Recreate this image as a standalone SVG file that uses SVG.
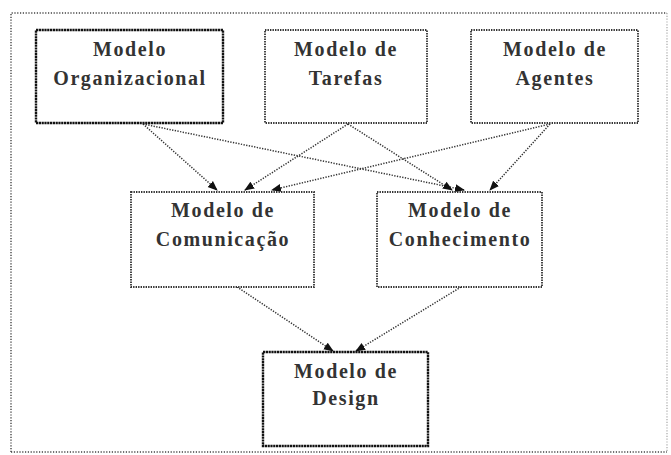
<svg xmlns="http://www.w3.org/2000/svg" width="671" height="455" viewBox="0 0 671 455">
  <style>
    .frame { fill: none; stroke: #444; stroke-width: 1.4; stroke-dasharray: 1.2 1.6; }
    .box { fill: #fff; stroke: #333; stroke-width: 1.8; stroke-dasharray: 1.4 1.1; }
    .box.strong { stroke: #111; stroke-width: 2.4; stroke-dasharray: 2.2 0.6; }
    .label { font-family: "Liberation Serif", "Times New Roman", serif; font-weight: bold; font-size: 20px; letter-spacing: 1.6px; fill: #333; text-anchor: middle; }
    .link { fill: none; stroke: #333; stroke-width: 1.5; stroke-dasharray: 1.3 1.4; }
  </style>
  <defs>
    <marker id="arrow" markerUnits="userSpaceOnUse" markerWidth="10" markerHeight="10" viewBox="0 0 10 10" refX="9" refY="5" orient="auto">
      <path d="M0,1 L10,5 L0,9 Z" fill="#111"/>
    </marker>
  </defs>

  <rect width="671" height="455" fill="#fff"/>

  <!-- outer border -->
  <path class="frame" d="M11,452 L11,13 L667,13"/>
  <path class="frame" d="M11,452 L667,452"/>
  <path class="frame" d="M667,13 L667,452" stroke-opacity="0.4"/>

  <g id="connectors">
    <line class="link" x1="143" y1="124" x2="217" y2="190" marker-end="url(#arrow)"/>
    <line class="link" x1="143" y1="124" x2="464" y2="190" marker-end="url(#arrow)"/>
    <line class="link" x1="348" y1="124" x2="245" y2="190" marker-end="url(#arrow)"/>
    <line class="link" x1="348" y1="124" x2="452" y2="190" marker-end="url(#arrow)"/>
    <line class="link" x1="550" y1="124" x2="272" y2="190" marker-end="url(#arrow)"/>
    <line class="link" x1="550" y1="124" x2="490" y2="190" marker-end="url(#arrow)"/>
    <line class="link" x1="237" y1="287" x2="333" y2="351" marker-end="url(#arrow)"/>
    <line class="link" x1="461" y1="287" x2="356" y2="351" marker-end="url(#arrow)"/>
  </g>

  <g id="modelo-organizacional">
    <rect class="box strong" x="36" y="30" width="187" height="93"/>
    <text class="label" x="130" y="56">Modelo</text>
    <text class="label" x="130" y="85">Organizacional</text>
  </g>

  <g id="modelo-tarefas">
    <rect class="box" x="265" y="30" width="162" height="93"/>
    <text class="label" x="346" y="56">Modelo de</text>
    <text class="label" x="346" y="85">Tarefas</text>
  </g>

  <g id="modelo-agentes">
    <rect class="box" x="471" y="30" width="167" height="93"/>
    <text class="label" x="555" y="56">Modelo de</text>
    <text class="label" x="555" y="85">Agentes</text>
  </g>

  <g id="modelo-comunicacao">
    <rect class="box" x="131" y="192" width="183" height="95"/>
    <text class="label" x="223" y="217">Modelo de</text>
    <text class="label" x="223" y="246">Comunicação</text>
  </g>

  <g id="modelo-conhecimento">
    <rect class="box" x="377" y="192" width="165" height="95"/>
    <text class="label" x="460" y="217">Modelo de</text>
    <text class="label" x="460" y="246">Conhecimento</text>
  </g>

  <g id="modelo-design">
    <rect class="box strong" x="263" y="352" width="165" height="94"/>
    <text class="label" x="346" y="378">Modelo de</text>
    <text class="label" x="346" y="405">Design</text>
  </g>
</svg>
